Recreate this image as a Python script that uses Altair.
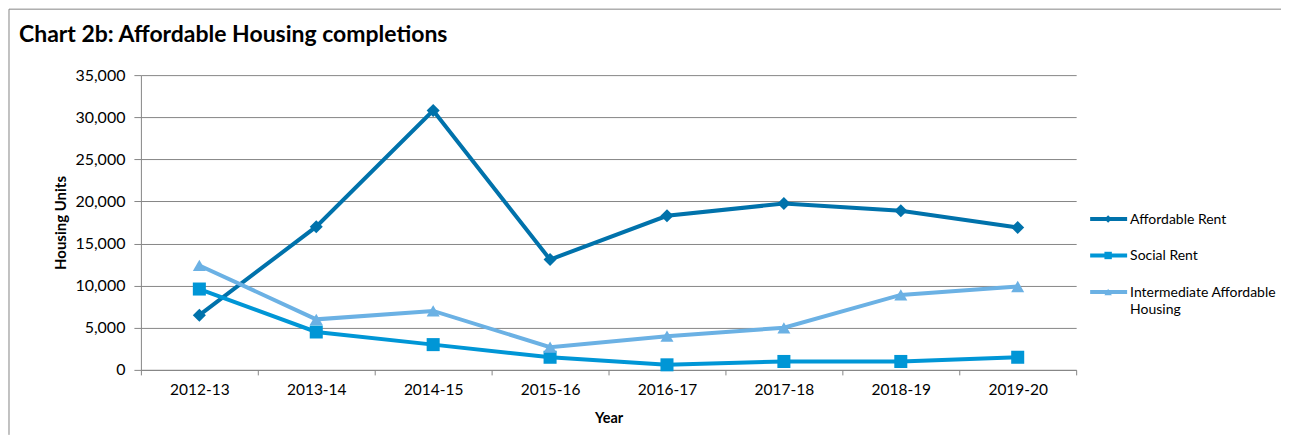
import altair as alt
import pandas as pd

years = ["2012-13", "2013-14", "2014-15", "2015-16", "2016-17", "2017-18", "2018-19", "2019-20"]
series = ["Affordable Rent", "Social Rent", "Intermediate Affordable Housing"]
legend_labels = ["Affordable Rent", "Social Rent", "Intermediate Affordable\nHousing"]
affordable_rent = [6500, 17000, 30800, 13100, 18300, 19750, 18900, 16900]
social_rent = [9600, 4500, 3000, 1500, 600, 1000, 1000, 1500]
intermediate = [12400, 6000, 7000, 2700, 4000, 5000, 8900, 9900]
colors = ["#0072AB", "#0096D6", "#6BB1E4"]
shapes = ["diamond", "square", "triangle-up"]

rows = []
for s, vals in zip(series, [affordable_rent, social_rent, intermediate]):
    for y, v in zip(years, vals):
        rows.append({"Year": y, "series": s, "value": v})
df = pd.DataFrame(rows)

FONT = "Lato"
GRAY = "#868686"

color = alt.Color("series:N", scale=alt.Scale(domain=series, range=colors), legend=None)
shape = alt.Shape("series:N", scale=alt.Scale(domain=series, range=shapes), legend=None)

x = alt.X(
    "Year:N",
    sort=years,
    bandPosition=0.5,
    scale=alt.Scale(type="band", paddingInner=0, paddingOuter=0),
    axis=alt.Axis(
        title="Year", labelAngle=0, tickBand="extent", grid=False,
        tickSize=5, labelPadding=8, titlePadding=13,
        labelFontSize=15.5, titleFontSize=14.5, labelFont=FONT, titleFont=FONT,
        titleFontWeight="bold", labelColor="black", titleColor="black",
        domainColor=GRAY, tickColor=GRAY,
    ),
)
y = alt.Y(
    "value:Q",
    scale=alt.Scale(domain=[0, 35000], nice=False),
    axis=alt.Axis(
        title="Housing Units", values=list(range(0, 35001, 5000)), format=",.0f",
        tickSize=7, labelPadding=9, labelFontSize=16, labelFont=FONT,
        titleFont=FONT, titleFontSize=15, titleFontWeight="bold",
        labelColor="black", titleColor="black",
        titleX=-80, titleBaseline="middle",
        gridColor=GRAY, domainColor=GRAY, tickColor=GRAY,
    ),
)

base = alt.Chart(df).encode(x=x, y=y, color=color)
lines = base.mark_line(strokeWidth=4)
points = base.mark_point(filled=True, opacity=1, size=170).encode(shape=shape)

main = alt.layer(lines, points).properties(
    width=936,
    height=295,
    title=alt.TitleParams(
        "Chart 2b: Affordable Housing completions",
        anchor="start", frame="group", dx=-122, offset=2,
        baseline="alphabetic", fontSize=23, font=FONT, fontWeight="bold",
        color="black",
    ),
)

leg_df = pd.DataFrame({"series": series, "label": legend_labels, "idx": list(range(len(series)))})
ly = alt.Y("idx:Q", scale=alt.Scale(domain=[0, 2], range=[144, 217]), axis=None)
lbase = alt.Chart(leg_df).encode(y=ly, color=color)
leg_line = lbase.mark_rule(strokeWidth=4).encode(x=alt.value(0), x2=alt.value(37))
leg_pt = lbase.mark_point(filled=True, opacity=1, size=55).encode(x=alt.value(18), shape=shape)
leg_txt = alt.Chart(leg_df).mark_text(
    align="left", baseline="alphabetic", dy=5, lineBreak="\n", lineHeight=17,
    font=FONT, fontSize=14, color="black",
).encode(x=alt.value(40), y=ly, text="label:N")

# outer frame of the figure (top and left edges)
frame_df = pd.DataFrame({"k": [0]})
frame_top = alt.Chart(frame_df).mark_rule(color=GRAY, strokeWidth=1).encode(
    x=alt.value(-1082), x2=alt.value(191), y=alt.value(-66)
)
frame_left = alt.Chart(frame_df).mark_rule(color=GRAY, strokeWidth=1).encode(
    x=alt.value(-1082), y=alt.value(-66), y2=alt.value(360)
)

legend = alt.layer(frame_top, frame_left, leg_line, leg_pt, leg_txt).properties(width=150, height=295)

chart = alt.hconcat(main, legend, spacing=14, bounds="flush").properties(
    padding=0
).configure_view(stroke=None).resolve_scale(y="independent", color="shared", shape="shared")

chart.save("out.html", embed_options={"renderer": "svg", "actions": False})
